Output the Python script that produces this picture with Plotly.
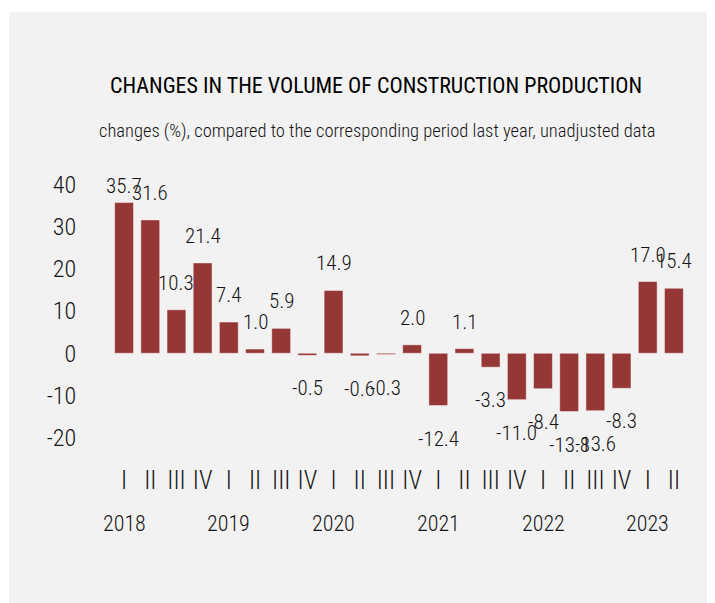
import plotly.graph_objects as go

# ---------------- data ----------------
quarters = ["I", "II", "III", "IV", "I", "II", "III", "IV", "I", "II", "III", "IV",
            "I", "II", "III", "IV", "I", "II", "III", "IV", "I", "II"]
years = ["2018", "2019", "2020", "2021", "2022", "2023"]
values = [35.7, 31.6, 10.3, 21.4, 7.4, 1.0, 5.9, -0.5, 14.9, -0.6, -0.3, 2.0,
          -12.4, 1.1, -3.3, -11.0, -8.4, -13.8, -13.6, -8.3, 17.0, 15.4]
y_ticks = [40, 30, 20, 10, 0, -10, -20]

title_text = "CHANGES IN THE VOLUME OF CONSTRUCTION PRODUCTION"
subtitle_text = "changes (%), compared to the corresponding period last year, unadjusted data"

# ---------------- style ----------------
FONT = "Roboto Condensed, DejaVu Sans Condensed, sans-serif"
BG = "#f2f2f2"
BAR = "#953735"
TXT = "#141414"
W, H = 707, 595
ML, MR, MT, MB = 103, 28, 168, 140
Y_RANGE = [-26, 42]
LABEL_CAP = 33.2

idx = list(range(len(values)))
pw = W - ML - MR
ph = H - MT - MB


def f(size, weight=300, color=TXT):
    return dict(family=FONT, size=size, color=color, weight=weight)


fig = go.Figure()
fig.add_trace(go.Bar(
    x=idx, y=values,
    marker=dict(color=BAR, line=dict(color="rgba(255,255,255,0.45)", width=1)),
    hoverinfo="x+y",
))

ann = []
for i, v in enumerate(values):
    if v >= 0:
        ann.append(dict(x=i, y=min(v, LABEL_CAP), xref="x", yref="y", text=f"{v:.1f}",
                        showarrow=False, yanchor="bottom", yshift=13, font=f(21)))
    else:
        ann.append(dict(x=i, y=v, xref="x", yref="y", text=f"{v:.1f}",
                        showarrow=False, yanchor="top", yshift=-19, font=f(21)))

for k, yr in enumerate(years):
    ann.append(dict(x=4 * k, y=0, xref="x", yref="paper", text=yr, showarrow=False,
                    yanchor="middle", yshift=-60, font=f(22)))

ann.append(dict(x=(368 - ML) / pw, y=(MT + ph - 78) / ph, xref="paper", yref="paper",
                text=title_text, showarrow=False, yanchor="middle", xanchor="center",
                font=f(22, 400, "#000000")))
ann.append(dict(x=(369 - ML) / pw, y=(MT + ph - 123) / ph, xref="paper", yref="paper",
                text=subtitle_text, showarrow=False, yanchor="middle", xanchor="center",
                font=f(18.5)))

# white strip above / left of the grey panel
shapes = [dict(type="rect", xref="paper", yref="paper", layer="below",
               x0=(-10 - ML) / pw, x1=(W + 10 - ML) / pw,
               y0=(MT + ph - 4) / ph, y1=(MT + ph + 10) / ph,
               fillcolor="white", line=dict(width=0)),
          dict(type="rect", xref="paper", yref="paper", layer="below",
               x0=(-10 - ML) / pw, x1=(1 - ML) / pw,
               y0=(MT + ph - H - 10) / ph, y1=(MT + ph + 10) / ph,
               fillcolor="white", line=dict(width=0))]

fig.update_layout(
    width=W, height=H,
    margin=dict(l=ML, r=MR, t=MT, b=MB),
    paper_bgcolor=BG,
    plot_bgcolor="rgba(0,0,0,0)",
    showlegend=False,
    bargap=0.28,
    annotations=ann,
    shapes=shapes,
    font=dict(family=FONT, color=TXT),
    xaxis=dict(
        range=[-0.5, len(values) - 0.5],
        tickmode="array", tickvals=idx, ticktext=quarters,
        tickfont=f(25),
        showgrid=False, zeroline=False, showline=False,
        ticks="", fixedrange=True,
    ),
    yaxis=dict(
        range=Y_RANGE,
        tickmode="array", tickvals=y_ticks, ticktext=[str(t) for t in y_ticks],
        tickfont=f(24),
        showgrid=False, zeroline=False, showline=False,
        ticks="outside", ticklen=29, tickcolor="rgba(0,0,0,0)",
        fixedrange=True,
    ),
)

fig.write_html("out.html")
